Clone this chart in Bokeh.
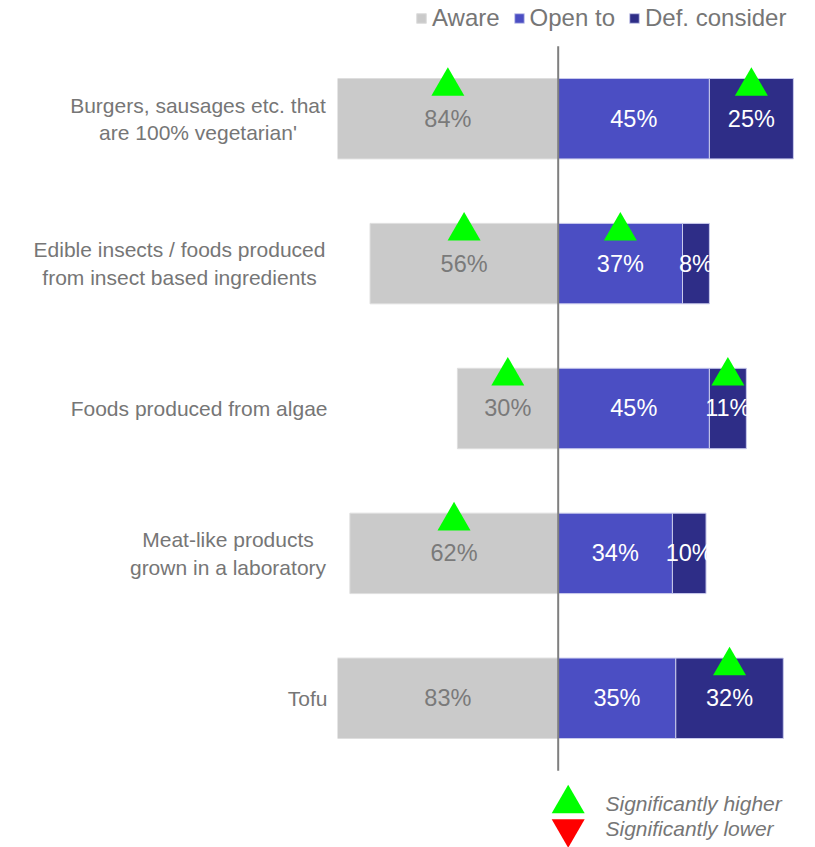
from bokeh.plotting import figure
from bokeh.models import ColumnDataSource, Range1d, Label, Legend, LegendItem, BoxAnnotation
from bokeh.core.properties import value
from bokeh.embed import file_html
from bokeh.resources import INLINE

# ---------------- data ----------------
categories = [
    "Burgers, sausages etc. that\nare 100% vegetarian'",
    "Edible insects / foods produced\nfrom insect based ingredients",
    "Foods produced from algae",
    "Meat-like products\ngrown in a laboratory",
    "Tofu",
]
aware = [84, 56, 30, 62, 83]
open_to = [45, 37, 45, 34, 35]
def_consider = [25, 8, 11, 10, 32]
sig_aware = [True, True, True, True, False]
sig_open = [False, True, False, False, False]
sig_def = [True, False, True, False, True]
series_names = ["Aware", "Open to", "Def. consider"]
key_texts = ["Significantly higher", "Significantly lower"]

# ---------------- style ----------------
FONT = "Liberation Sans"
GREY_TXT = "#767676"
C_AWARE = "#CACACA"
C_OPEN = "#4B4EC3"
C_DEF = "#2E2D87"
GREEN = "#00FF00"
RED = "#FF0000"

W, H = 815, 847
X_START, X_END = -165.98, 76.58     # whole canvas is the plot frame
AXIS_MIN = -65.68                   # left limit of the bar area (bars are clipped here)
Y_START, Y_END = -1.0297, 4.8157
PX_PER_UNIT_Y = H / (Y_END - Y_START)
PX_PER_UNIT_X = W / (X_END - X_START)
BAR_H = 0.555

n = len(categories)
ypos = [n - 1 - i for i in range(n)]

p = figure(width=W, height=H, output_backend="svg", toolbar_location=None,
           x_range=Range1d(X_START, X_END), y_range=Range1d(Y_START, Y_END),
           x_axis_location=None, y_axis_location=None,
           min_border_left=0, min_border_right=0,
           min_border_top=0, min_border_bottom=0)
p.outline_line_color = None
p.grid.visible = False
p.background_fill_color = "white"

lim = -AXIS_MIN
open_end = [o + d for o, d in zip(open_to, def_consider)]
src = ColumnDataSource(dict(
    y=ypos,
    aware_left=[-a for a in aware],
    zero=[0] * n,
    open_right=open_to,
    def_right=open_end,
    aware_lx=[-min(a, lim) / 2 for a in aware],
    open_lx=[o / 2 for o in open_to],
    def_lx=[o + d / 2 for o, d in zip(open_to, def_consider)],
    aware_lbl=[f"{a}%" for a in aware],
    open_lbl=[f"{o}%" for o in open_to],
    def_lbl=[f"{d}%" for d in def_consider],
))

r_aware = p.hbar(y="y", left="aware_left", right="zero", height=BAR_H, source=src,
                 fill_color=C_AWARE, line_color="#DEDEDE", line_width=1)
r_open = p.hbar(y="y", left="zero", right="open_right", height=BAR_H, source=src,
                fill_color=C_OPEN, line_color="#C9CAEC", line_width=1)
r_def = p.hbar(y="y", left="open_right", right="def_right", height=BAR_H, source=src,
               fill_color=C_DEF, line_color="#C9CAEC", line_width=1)

# central axis line
p.segment(x0=[0], x1=[0], y0=[min(ypos) - 0.5], y1=[max(ypos) + 0.5],
          line_color="#7F7F7F", line_width=2)

# value labels
p.text(x="aware_lx", y="y", text="aware_lbl", source=src, text_align="center",
       text_baseline="middle", text_font=value(FONT), text_font_size="23.5px",
       text_color="#7A7A7A")
p.text(x="open_lx", y="y", text="open_lbl", source=src, text_align="center",
       text_baseline="middle", text_font=value(FONT), text_font_size="23.5px",
       text_color="white")
p.text(x="def_lx", y="y", text="def_lbl", source=src, text_align="center",
       text_baseline="middle", text_font=value(FONT), text_font_size="23.5px",
       text_color="white")

# significance markers
TRI = 33
tri_dy = 32.5 / PX_PER_UNIT_Y
mx, my = [], []
for xs, flags in ((src.data["aware_lx"], sig_aware),
                  (src.data["open_lx"], sig_open),
                  (src.data["def_lx"], sig_def)):
    for xv, yv, f in zip(xs, ypos, flags):
        if f:
            mx.append(xv)
            my.append(yv + tri_dy)
p.scatter(x=mx, y=my, marker="triangle", size=TRI, fill_color=GREEN, line_color=None)

# mask: bars are cut at the axis minimum, like a clipped value axis
p.add_layout(BoxAnnotation(right=AXIS_MIN, fill_color="white", fill_alpha=1.0,
                           line_color=None))

# category labels (screen x)
label_x = [197.5, 179, 327, 227.5, 327]
label_align = ["center", "center", "right", "center", "right"]
for cat, yv, lx, al in zip(categories, ypos, label_x, label_align):
    p.add_layout(Label(x=lx, y=yv, x_units="screen", y_units="data", text=cat,
                       text_align=al, text_baseline="middle", text_font=FONT,
                       text_font_size="21px", text_color=GREY_TXT,
                       text_line_height=1.19))

# top legend
legend = Legend(items=[LegendItem(label=series_names[0], renderers=[r_aware]),
                       LegendItem(label=series_names[1], renderers=[r_open]),
                       LegendItem(label=series_names[2], renderers=[r_def])],
                orientation="horizontal", location=(415, 815),
                glyph_width=12, glyph_height=12, label_standoff=5, spacing=13,
                padding=0, margin=0, border_line_color=None,
                background_fill_alpha=0, label_text_font=FONT,
                label_text_font_size="24px", label_text_color=GREY_TXT)
p.add_layout(legend)

# key at bottom
bottom_edge = min(ypos) - 0.5
key_x = 10 / PX_PER_UNIT_X
key_y = [bottom_edge - 33 / PX_PER_UNIT_Y, bottom_edge - 58 / PX_PER_UNIT_Y]
p.scatter(x=[key_x], y=[key_y[0]], marker="triangle", size=TRI,
          fill_color=GREEN, line_color=None)
p.scatter(x=[key_x], y=[key_y[1]], marker="inverted_triangle", size=TRI,
          fill_color=RED, line_color=None)
for t, yv in zip(key_texts, key_y):
    p.add_layout(Label(x=605, y=yv, x_units="screen", y_units="data", text=t,
                       text_align="left", text_baseline="middle", text_font=FONT,
                       text_font_size="21px", text_font_style="italic",
                       text_color=GREY_TXT))

open("out.html", "w").write(file_html(p, INLINE))
